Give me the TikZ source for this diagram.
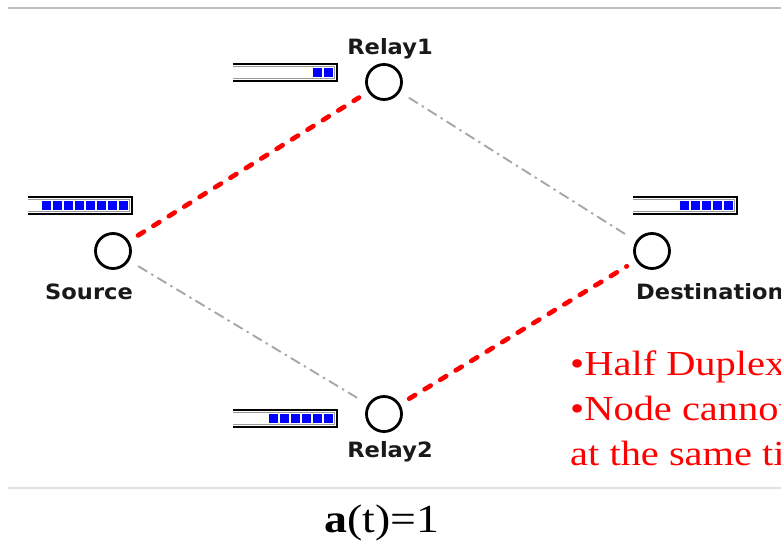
\documentclass[tikz,border=0pt]{standalone}
\usepackage{fontspec}
\setmainfont{Liberation Serif}
\newfontfamily\labelfont[FakeStretch=1.07]{DejaVu Sans}
\newfontfamily\notefont[FakeStretch=1.15]{Liberation Serif}

% queue drawn at a node: right end x, top y, number of packets
\newcommand{\buffer}[3]{%
  \draw[line width=1.8pt] ({#1-104},#2) -- (#1,#2) -- (#1,{#2+17}) -- ({#1-104},{#2+17});
  \draw[black!40,line width=0.6pt] ({#1-104},{#2+2.5}) -- ({#1-2.5},{#2+2.5}) -- ({#1-2.5},{#2+14.5}) -- ({#1-104},{#2+14.5});
  \foreach \k in {1,...,#3}
    \fill[blue] ({#1-13-11*(\k-1)},{#2+4}) rectangle ++(9,9);
}

\begin{document}
\begin{tikzpicture}[x=0.03cm,y=-0.03cm,
  relay/.style={draw,circle,line width=2.4pt,minimum size=1.05cm,inner sep=0pt},
  nodelabel/.style={font=\labelfont\bfseries\fontsize{18}{18}\selectfont,text=black!90,anchor=base,inner sep=0pt},
  hoplink/.style={red,line width=4pt,dash pattern=on 6pt off 9.5pt,line cap=round,shorten <=9pt,shorten >=9pt},
  idlelink/.style={black!35,line width=1.6pt,dash pattern=on 9pt off 4pt on 2pt off 4pt,shorten <=9pt,shorten >=9pt},
  notetext/.style={anchor=base west,inner sep=0pt,text=red,font=\notefont\fontsize{30}{30}\selectfont}]
\useasboundingbox (0,0) rectangle (781,541);
\clip (0,0) rectangle (781,541);

\draw[black!25,line width=1.2pt] (8,8) -- (781,8);
\draw[black!12,line width=1.2pt] (8,488) -- (781,488);

% nodes
\node[relay] (src) at (113,251) {};
\node[relay] (r1) at (384,82) {};
\node[relay] (r2) at (384,414) {};
\node[relay] (dst) at (652,251) {};

\node[nodelabel] (srclbl) at (89,300) {Source};
\node[nodelabel] (r1lbl) at (390,55) {Relay1};
\node[nodelabel] (r2lbl) at (390,457) {Relay2};
\node[nodelabel,anchor=base west] (dstlbl) at (636,300) {Destination};

% queues
\buffer{132}{197}{8}
\buffer{337}{64}{2}
\buffer{737}{197}{5}
\buffer{337}{410}{6}

% links
\draw[hoplink] (src) -- (r1);
\draw[idlelink] (src) -- (r2);
\draw[idlelink] (r1) -- (dst);
\draw[hoplink] (r2) -- (dst);

% notes
\node[notetext] (duplex) at (570,375) {•Half Duplex};
\node[notetext] (cannot) at (570,420) {•Node cannot};
\node[notetext] (sametime) at (570,465) {at the same time};

\node[anchor=base,inner sep=0pt,font=\notefont\fontsize{34}{34}\selectfont] (slot) at (382,532) {\textbf{a}(t)=1};
\end{tikzpicture}
\end{document}
